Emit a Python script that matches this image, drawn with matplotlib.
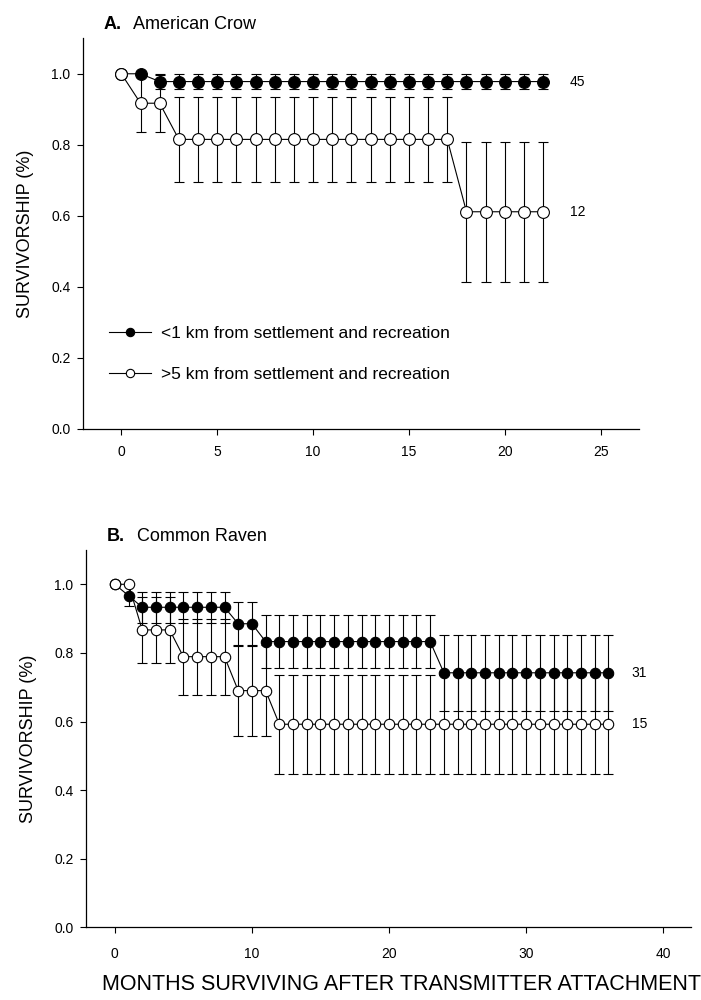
import matplotlib.pyplot as plt
from matplotlib.lines import Line2D

plt.rcParams['font.family'] = ['Liberation Sans', 'DejaVu Sans']

# American Crow, monthly survivorship
crow_months = [0, 1, 2, 3, 4, 5, 6, 7, 8, 9, 10, 11, 12, 13, 14, 15, 16, 17, 18, 19, 20, 21, 22]
crow_near = [1.0, 1.0, 0.978, 0.978, 0.978, 0.978, 0.978, 0.978, 0.978, 0.978, 0.978, 0.978,
             0.978, 0.978, 0.978, 0.978, 0.978, 0.978, 0.978, 0.978, 0.978, 0.978, 0.978]
crow_near_se = [0.0, 0.0, 0.022, 0.022, 0.022, 0.022, 0.022, 0.022, 0.022, 0.022, 0.022, 0.022,
                0.022, 0.022, 0.022, 0.022, 0.022, 0.022, 0.022, 0.022, 0.022, 0.022, 0.022]
crow_far = [1.0, 0.917, 0.917, 0.815, 0.815, 0.815, 0.815, 0.815, 0.815, 0.815, 0.815, 0.815,
            0.815, 0.815, 0.815, 0.815, 0.815, 0.815, 0.611, 0.611, 0.611, 0.611, 0.611]
crow_far_se = [0.0, 0.08, 0.08, 0.12, 0.12, 0.12, 0.12, 0.12, 0.12, 0.12, 0.12, 0.12,
               0.12, 0.12, 0.12, 0.12, 0.12, 0.12, 0.197, 0.197, 0.197, 0.197, 0.197]
crow_n = ["45", "12"]

# Common Raven, monthly survivorship
raven_months = [0, 1, 2, 3, 4, 5, 6, 7, 8, 9, 10, 11, 12, 13, 14, 15, 16, 17, 18, 19, 20,
                21, 22, 23, 24, 25, 26, 27, 28, 29, 30, 31, 32, 33, 34, 35, 36]
raven_near = [1.0, 0.967, 0.933, 0.933, 0.933, 0.933, 0.933, 0.933, 0.933, 0.885, 0.885,
              0.833, 0.833, 0.833, 0.833, 0.833, 0.833, 0.833, 0.833, 0.833, 0.833, 0.833,
              0.833, 0.833, 0.742, 0.742, 0.742, 0.742, 0.742, 0.742, 0.742, 0.742, 0.742,
              0.742, 0.742, 0.742, 0.742]
raven_near_se = [0.0, 0.031, 0.045, 0.045, 0.045, 0.045, 0.045, 0.045, 0.045, 0.064, 0.064,
                 0.078, 0.078, 0.078, 0.078, 0.078, 0.078, 0.078, 0.078, 0.078, 0.078, 0.078,
                 0.078, 0.078, 0.111, 0.111, 0.111, 0.111, 0.111, 0.111, 0.111, 0.111, 0.111,
                 0.111, 0.111, 0.111, 0.111]
raven_far = [1.0, 1.0, 0.867, 0.867, 0.867, 0.789, 0.789, 0.789, 0.789, 0.69, 0.69, 0.69,
             0.592, 0.592, 0.592, 0.592, 0.592, 0.592, 0.592, 0.592, 0.592, 0.592, 0.592,
             0.592, 0.592, 0.592, 0.592, 0.592, 0.592, 0.592, 0.592, 0.592, 0.592, 0.592,
             0.592, 0.592, 0.592]
raven_far_se = [0.0, 0.0, 0.095, 0.095, 0.095, 0.111, 0.111, 0.111, 0.111, 0.133, 0.133, 0.133,
                0.145, 0.145, 0.145, 0.145, 0.145, 0.145, 0.145, 0.145, 0.145, 0.145, 0.145,
                0.145, 0.145, 0.145, 0.145, 0.145, 0.145, 0.145, 0.145, 0.145, 0.145, 0.145,
                0.145, 0.145, 0.145]
raven_n = ["31", "15"]

near_label = "<1 km from settlement and recreation"
far_label = ">5 km from settlement and recreation"


def style_axes(ax, xticks):
    for side in ("top", "right"):
        ax.spines[side].set_visible(False)
    ax.spines["left"].set_linewidth(0.9)
    ax.spines["bottom"].set_linewidth(0.9)
    ax.set_ylim(0, 1.1)
    ax.set_yticks([0.0, 0.2, 0.4, 0.6, 0.8, 1.0])
    ax.set_yticklabels(["%.1f" % v for v in [0.0, 0.2, 0.4, 0.6, 0.8, 1.0]])
    ax.set_xticks(xticks)
    ax.tick_params(direction="out", length=4, width=0.8, labelsize=10)
    ax.tick_params(axis="x", pad=8)
    ax.tick_params(axis="y", pad=5)
    ax.set_ylabel("SURVIVORSHIP (%)", fontsize=13, labelpad=12)


def draw_series(ax, x, y, err, face, ms):
    ax.errorbar(x, y, yerr=err, fmt="o-", color="black", mfc=face, mec="black",
                ms=ms, mew=0.8, lw=0.8, elinewidth=0.8, capsize=3.5, capthick=0.8,
                clip_on=False)


fig = plt.figure(figsize=(7.01, 10), dpi=100)

# panel A
ax1 = fig.add_axes([0.1184, 0.5715, 0.7932, 0.3902])
draw_series(ax1, crow_months, crow_near, crow_near_se, "black", 8.5)
draw_series(ax1, crow_months, crow_far, crow_far_se, "white", 8.5)
ax1.set_xlim(-2, 27)
style_axes(ax1, [0, 5, 10, 15, 20, 25])
ax1.text(23.4, crow_near[-1], crow_n[0], fontsize=10, va="center")
ax1.text(23.4, crow_far[-1], crow_n[1], fontsize=10, va="center")
ax1.text(-0.95, 1.14, "A.", fontsize=13, fontweight="bold", va="center")
ax1.text(0.6, 1.14, "American Crow", fontsize=13, va="center")

handles = [
    Line2D([], [], color="black", lw=0.8, marker="o", ms=6, mfc="black", mec="black", mew=0.8),
    Line2D([], [], color="black", lw=0.8, marker="o", ms=6, mfc="white", mec="black", mew=0.8),
]
ax1.legend(handles, [near_label, far_label], loc="upper left",
           bbox_to_anchor=(0.047, 0.262), frameon=False, fontsize=12.5,
           handlelength=2.4, handletextpad=0.6, labelspacing=1.45,
           borderpad=0, borderaxespad=0)

# panel B
ax2 = fig.add_axes([0.1227, 0.0727, 0.8626, 0.3773])
draw_series(ax2, raven_months, raven_near, raven_near_se, "black", 7.5)
draw_series(ax2, raven_months, raven_far, raven_far_se, "white", 7.5)
ax2.set_xlim(-2.1, 42)
style_axes(ax2, [0, 10, 20, 30, 40])
ax2.tick_params(axis="x", pad=10)
ax2.text(37.7, raven_near[-1], raven_n[0], fontsize=10, va="center")
ax2.text(37.7, raven_far[-1], raven_n[1], fontsize=10, va="center")
ax2.text(-0.6, 1.14, "B.", fontsize=13, fontweight="bold", va="center")
ax2.text(1.6, 1.14, "Common Raven", fontsize=13, va="center")

fig.text(0.1455, 0.015, "MONTHS SURVIVING AFTER TRANSMITTER ATTACHMENT",
         fontsize=15.5, ha="left", va="center")

fig.savefig("out.png", dpi=100)
